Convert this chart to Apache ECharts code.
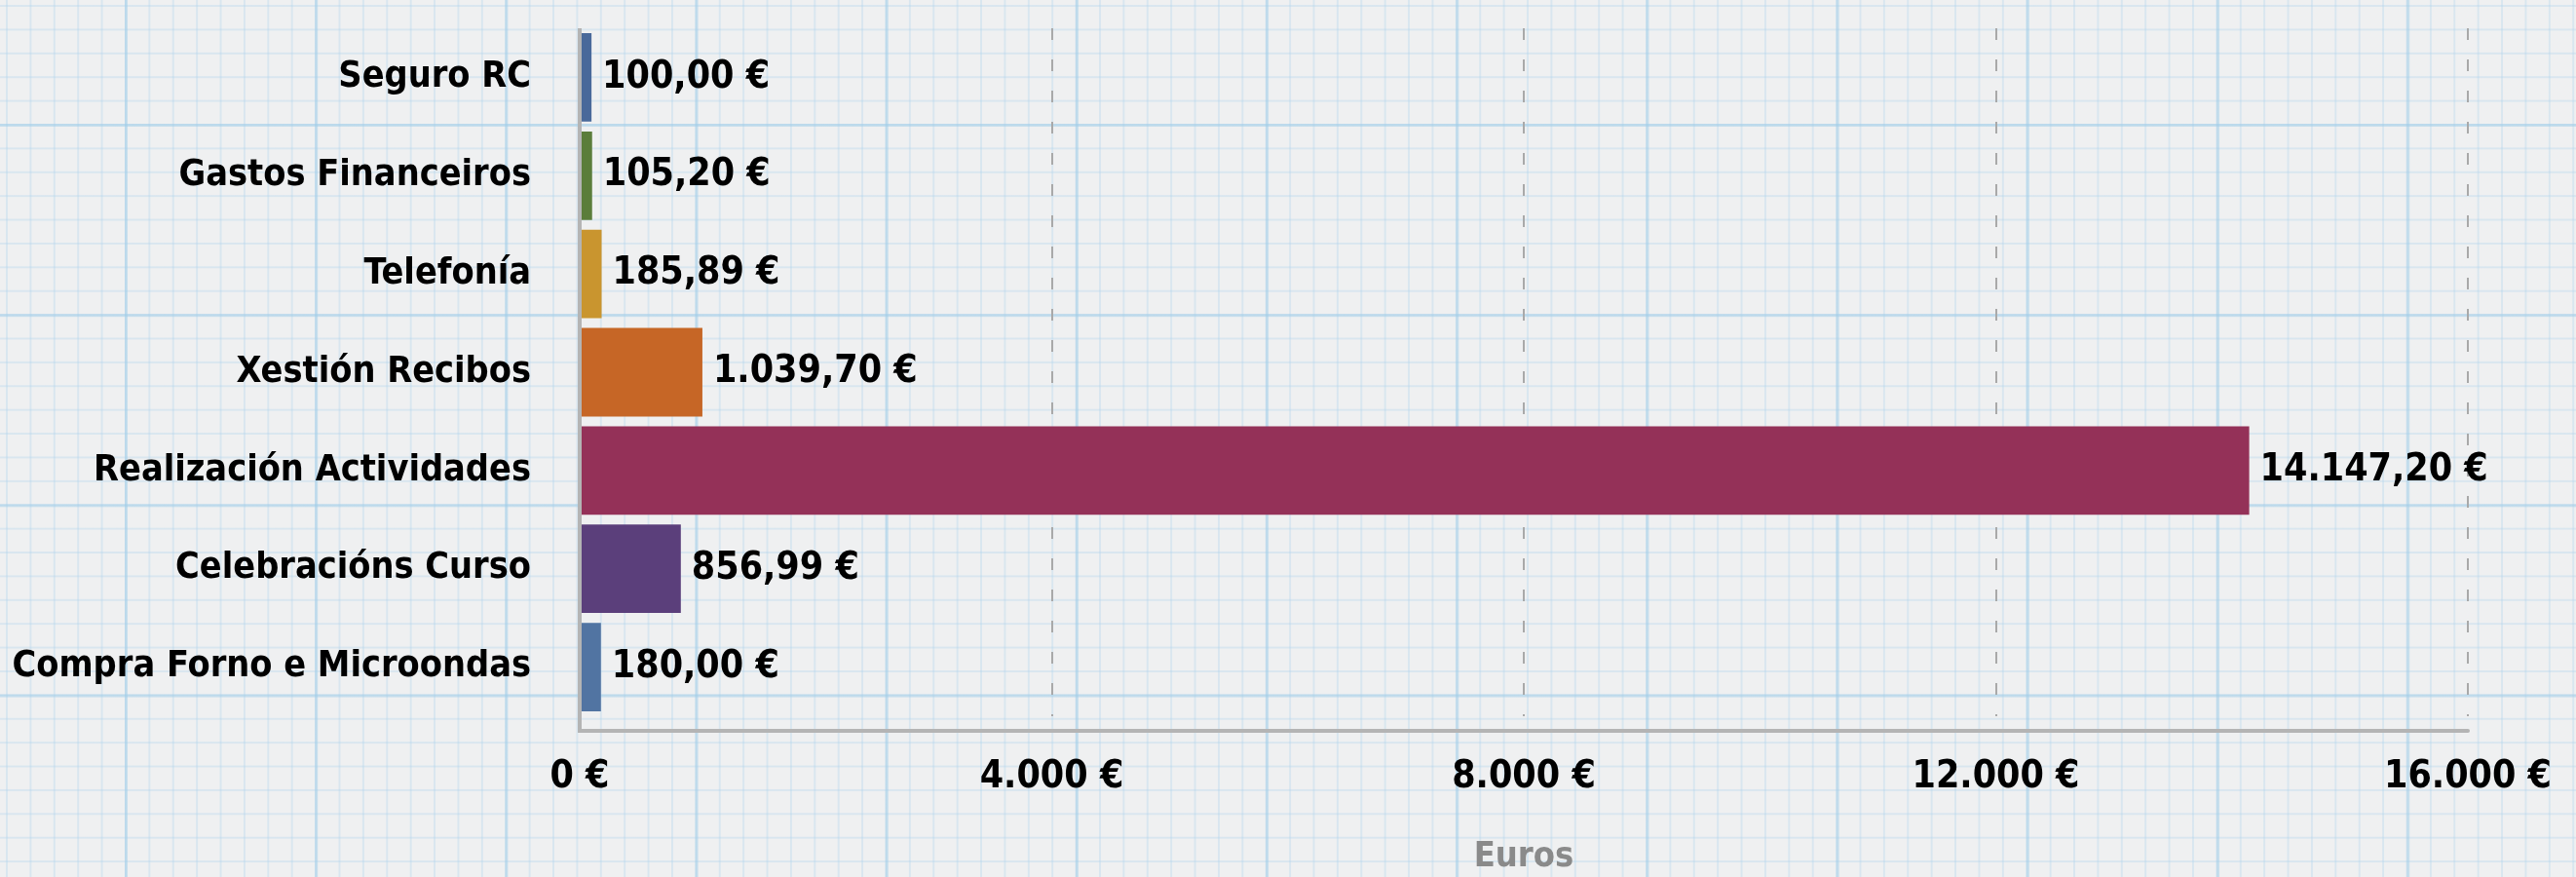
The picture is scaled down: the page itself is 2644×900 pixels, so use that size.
<!DOCTYPE html>
<html>
<head>
<meta charset="utf-8">
<script src="https://cdn.jsdelivr.net/npm/echarts@6/dist/echarts.min.js"></script>
<style>
  html, body { margin: 0; padding: 0; width: 2644px; height: 900px; overflow: hidden; }
  body {
    background-color: #eff0f1;
    background-image:
      linear-gradient(to right, rgba(160,205,232,0.5) 2.5px, transparent 2.5px),
      linear-gradient(to bottom, rgba(160,205,232,0.5) 2.5px, transparent 2.5px),
      linear-gradient(to right, rgba(175,212,236,0.35) 1.5px, transparent 1.5px),
      linear-gradient(to bottom, rgba(175,212,236,0.35) 1.5px, transparent 1.5px);
    background-size: 195.2px 195.2px, 195.2px 195.2px, 24.4px 24.4px, 24.4px 24.4px;
    background-position: 128px 127px, 128px 127px, 128px 127px, 128px 127px;
  }
  #chart { width: 2644px; height: 900px; }
</style>
</head>
<body>
<div id="chart"></div>
<script>
const categories = ["Seguro RC", "Gastos Financeiros", "Telefonía", "Xestión Recibos", "Realización Actividades", "Celebracións Curso", "Compra Forno e Microondas"];
const values = [100.00, 105.20, 185.89, 1039.70, 14147.20, 856.99, 180.00];
const barColors = ["#49699a", "#5b7d3a", "#c9952f", "#c66626", "#943158", "#5b3f7b", "#5174a2"];
const xTicks = [0, 4000, 8000, 12000, 16000];
const axisName = "Euros";

const FONT = '"DejaVu Sans Condensed", "Liberation Sans Narrow", sans-serif';
const AXIS_GRAY = '#b4b4b4';
const X_OFFSET = 15;

function fmtEuro(v, dec) {
  const fixed = v.toFixed(dec);
  let [ip, dp] = fixed.split('.');
  ip = ip.replace(/\B(?=(\d{3})+(?!\d))/g, '.');
  return (dp ? ip + ',' + dp : ip) + ' €';
}

const chart = echarts.init(document.getElementById('chart'), null, { renderer: 'canvas' });
chart.setOption({
  backgroundColor: 'transparent',
  animation: false,
  grid: { left: 595, right: 111, top: 29, bottom: 165, containLabel: false, outerBoundsMode: 'none' },
  xAxis: {
    type: 'value',
    min: xTicks[0],
    max: xTicks[xTicks.length - 1],
    interval: xTicks[1] - xTicks[0],
    offset: X_OFFSET,
    name: axisName,
    nameLocation: 'middle',
    nameGap: 112,
    nameTextStyle: { color: '#8a8a8a', fontFamily: FONT, fontWeight: 'bold', fontSize: 36 },
    axisLine: { show: true, lineStyle: { color: AXIS_GRAY, width: 4 } },
    axisTick: { show: false },
    axisLabel: { color: '#000', fontFamily: FONT, fontWeight: 'bold', fontSize: 39, margin: 28,
      formatter: v => fmtEuro(v, 0) },
    splitLine: { show: true, lineStyle: { color: '#a9a9a9', type: [12, 20], width: 2 } }
  },
  yAxis: {
    type: 'category',
    data: categories,
    inverse: true,
    axisLine: { show: false },
    axisTick: { show: false },
    axisLabel: { color: '#000', fontFamily: FONT, fontWeight: 'bold', fontSize: 37.5, margin: 50 },
    splitLine: { show: false }
  },
  series: [{
    type: 'bar',
    data: values.map((v, i) => ({ value: v, itemStyle: { color: barColors[i] } })),
    barCategoryGap: '10%',
    label: {
      show: true,
      position: 'right',
      distance: 11,
      color: '#000',
      fontFamily: FONT,
      fontWeight: 'bold',
      fontSize: 39,
      formatter: p => fmtEuro(p.value, 2)
    }
  }]
});

// vertical value-axis baseline at x = 0, extended down to the offset x-axis line
const gridRect = chart.getModel().getComponent('grid', 0).coordinateSystem.getRect();
const x0 = chart.convertToPixel({ xAxisIndex: 0 }, xTicks[0]);
chart.setOption({
  graphic: [{
    type: 'line',
    z: 10,
    shape: { x1: x0, y1: gridRect.y, x2: x0, y2: gridRect.y + gridRect.height + X_OFFSET + 2 },
    style: { stroke: AXIS_GRAY, lineWidth: 4 }
  }]
});
</script>
</body>
</html>
